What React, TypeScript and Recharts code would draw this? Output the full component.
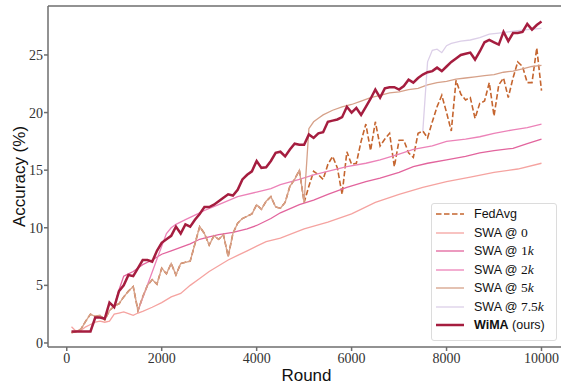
import { Label, Legend, Line, LineChart, ReferenceLine, XAxis, YAxis } from "recharts"

// evaluation every 100 rounds
const rounds = Array.from({ length: 100 }, (_, i) => (i + 1) * 100)

const fedAvgAcc = [
  0.9, 1.0, 1.2, 1.9, 2.5, 2.3, 2.4, 2.0, 2.8, 3.2,
  3.4, 4.0, 4.5, 4.9, 2.8, 4.0, 5.0, 5.5, 5.1, 6.5,
  6.0, 6.9, 5.9, 6.9, 7.0, 7.1, 8.6, 10.1, 9.5, 8.5,
  9.3, 9.0, 9.4, 7.5, 9.5, 10.4, 10.8, 11.0, 11.2, 12.0,
  11.6, 12.3, 12.7, 11.8, 11.7, 12.2, 13.6, 14.2, 15.0, 12.2,
  13.6, 14.9, 14.6, 14.2, 15.5, 16.2, 15.2, 12.9, 16.6, 15.5,
  15.6, 17.5, 19.0, 16.7, 19.2, 17.1, 17.7, 18.2, 15.3, 17.6,
  17.6, 16.5, 16.1, 18.2, 18.4, 17.8, 19.2, 20.5, 21.5, 20.0,
  18.4, 22.8, 21.6, 21.1, 21.3, 19.5, 20.8, 21.0, 22.6, 19.7,
  22.4, 23.0, 21.3, 23.0, 24.4, 24.0, 22.6, 22.6, 25.6, 21.9,
]

const wimaAcc = [
  1.0, 1.0, 1.0, 1.0, 1.0, 2.2, 2.2, 2.1, 3.5, 3.1,
  4.5, 5.0, 5.9, 5.8, 6.5, 7.2, 7.2, 7.05, 8.0, 8.7,
  9.0, 9.3, 10.1, 9.5, 10.3, 10.1, 10.7, 11.2, 11.8, 11.8,
  12.0, 12.3, 12.6, 12.9, 12.8, 13.3, 14.2, 14.6, 14.9, 15.8,
  15.2, 15.25, 15.8, 16.5, 16.6, 16.2, 16.8, 17.3, 17.2, 17.2,
  18.1, 17.8, 18.2, 18.3, 19.2, 19.3, 19.4, 19.6, 20.5, 20.0,
  20.4, 19.8, 20.5, 21.2, 22.0, 21.3, 22.1, 22.2, 22.2, 22.0,
  22.3, 22.85, 22.6, 23.0, 23.3, 23.5, 23.6, 23.9, 23.6, 24.0,
  24.4, 24.7, 25.0, 25.1, 25.2, 24.6, 25.3, 26.1, 26.3, 26.1,
  25.9, 27.0, 26.2, 26.9, 26.9, 27.0, 27.7, 27.2, 27.6, 27.9,
]

const swa0Rounds = [
  100, 200, 300, 400, 500, 600, 700, 800, 900, 1000, 1100, 1200, 1300, 1400, 1500, 1600,
  1800, 2000, 2200, 2400, 2600, 2800, 3000, 3200, 3400, 3600, 3800, 4000, 4200, 4500,
  5000, 5500, 6000, 6500, 7000, 7500, 8000, 8500, 9000, 9500, 10000,
]
const swa0Acc = [
  1.4, 1.0, 1.1, 1.4, 1.6, 1.8, 1.9, 1.8, 1.9, 2.5, 2.6, 2.7, 2.55, 2.4, 2.6, 2.75,
  3.1, 3.5, 4.0, 4.3, 5.0, 5.6, 6.2, 6.7, 7.2, 7.6, 8.0, 8.4, 8.8, 9.1,
  9.9, 10.5, 11.2, 12.2, 12.9, 13.5, 14.0, 14.4, 14.8, 15.1, 15.6,
]

const swa1kRounds = [
  1000, 1100, 1200, 1300, 1400, 1500, 1600, 1800, 2000, 2200, 2400, 2600, 2800, 3000,
  3200, 3500, 3800, 4000, 4300, 4500, 4900, 5200, 5500, 5900, 6300, 6600, 7000, 7300,
  7600, 8000, 8400, 8700, 9000, 9400, 9700, 10000,
]
const swa1kAcc = [
  3.2, 4.6, 5.8, 6.0, 6.2, 6.5, 6.8, 7.2, 7.7, 8.0, 8.3, 8.6, 9.0, 9.2,
  9.4, 9.6, 9.9, 10.2, 10.8, 11.3, 12.0, 12.4, 12.9, 13.5, 14.0, 14.3, 14.8, 15.3,
  15.6, 15.9, 16.2, 16.5, 16.7, 16.9, 17.3, 17.7,
]

const swa2kRounds = [
  1500, 2000, 2100, 2200, 2300, 2500, 2700, 2900, 3200, 3600, 4000, 4300, 4500, 4900,
  5200, 5600, 5900, 6300, 6600, 7000, 7300, 7700, 8000, 8400, 8700, 9000, 9400, 9700, 10000,
]
const swa2kAcc = [
  2.8, 8.4, 9.5, 10.0, 10.3, 10.7, 11.1, 11.5, 12.0, 12.7, 13.1, 13.4, 13.75, 14.2,
  14.6, 15.0, 15.3, 15.6, 15.9, 16.4, 16.8, 17.1, 17.5, 17.7, 17.9, 18.2, 18.5, 18.7, 19.0,
]

// SWA @ 5k follows FedAvg until round 5000
const swa5kLateRounds = [
  5100, 5200, 5300, 5400, 5600, 5800, 6000, 6200, 6400, 6600, 6800, 7000, 7200, 7400,
  7600, 7800, 8000, 8200, 8400, 8600, 8800, 9000, 9200, 9400, 9600, 9800, 10000,
]
const swa5kLateAcc = [
  18.6, 19.2, 19.5, 19.8, 20.2, 20.5, 20.7, 21.0, 21.3, 21.5, 21.7, 21.8, 22.0, 22.1,
  22.4, 22.6, 22.7, 22.9, 23.0, 23.1, 23.2, 23.3, 23.5, 23.6, 23.8, 24.0, 24.1,
]

const swa75kRounds = [
  7500, 7600, 7700, 7800, 7900, 8000, 8100, 8300, 8500, 8700, 8900, 9100, 9300, 9500, 9700, 10000,
]
const swa75kAcc = [
  18.4, 24.4, 25.4, 25.5, 25.2, 25.8, 26.0, 26.2, 26.3, 26.5, 26.8, 26.9, 27.0, 27.1, 27.2, 27.3,
]

const xTicks = [0, 2000, 4000, 6000, 8000, 10000]
const yTicks = [0, 5, 10, 15, 20, 25]

const toPoints = (xs: number[], ys: number[]) => xs.map((x, i) => ({ x, y: ys[i] }))

const fedAvgData = toPoints(rounds, fedAvgAcc)
const wimaData = toPoints(rounds, wimaAcc)
const swa0Data = toPoints(swa0Rounds, swa0Acc)
const swa1kData = toPoints(swa1kRounds, swa1kAcc)
const swa2kData = toPoints(swa2kRounds, swa2kAcc)
const swa5kData = [...fedAvgData.slice(0, 50), ...toPoints(swa5kLateRounds, swa5kLateAcc)]
const swa75kData = toPoints(swa75kRounds, swa75kAcc)

const C = {
  fedavg: "#c5652f",
  swa0: "#f5a3a0",
  swa1k: "#e2649d",
  swa2k: "#ec82b8",
  swa5k: "#d6a189",
  swa75k: "#dccfe8",
  wima: "#a51d3f",
}

const axisColor = "#6e6e6e"
const serif = "'Liberation Serif', 'DejaVu Serif', serif"
const sans = "'Liberation Sans', 'DejaVu Sans', sans-serif"

const Math_ = ({ n }: { n: string }) => (
  <span style={{ fontFamily: serif, fontSize: 13.5 }}>
    {n}
    <i>k</i>
  </span>
)

const legendRows = [
  { color: C.fedavg, dash: "5.5 2.5", w: 1.6, label: <span>FedAvg</span> },
  { color: C.swa0, w: 1.3, label: <span>SWA @ <span style={{ fontFamily: serif, fontSize: 13.5 }}>0</span></span> },
  { color: C.swa1k, w: 1.3, label: <span>SWA @ <Math_ n="1" /></span> },
  { color: C.swa2k, w: 1.3, label: <span>SWA @ <Math_ n="2" /></span> },
  { color: C.swa5k, w: 1.3, label: <span>SWA @ <Math_ n="5" /></span> },
  { color: C.swa75k, w: 1.3, label: <span>SWA @ <Math_ n="7.5" /></span> },
  { color: C.wima, w: 2.5, label: <span><b>WiMA</b> (ours)</span> },
]

function LegendBox() {
  return (
    <div
      style={{
        boxSizing: "border-box",
        width: 126,
        height: 138,
        border: "1px solid #dcdcdc",
        borderRadius: 3,
        background: "rgba(255,255,255,0.85)",
        paddingTop: 1,
        fontFamily: sans,
        fontSize: 12.5,
        color: "#111",
      }}
    >
      {legendRows.map((r, i) => (
        <div key={i} style={{ display: "flex", alignItems: "center", height: 18.5 }}>
          <svg width={42} height={10} style={{ flex: "none" }}>
            <line x1={4} y1={5} x2={32} y2={5} stroke={r.color} strokeWidth={r.w} strokeDasharray={r.dash} />
          </svg>
          <span style={{ whiteSpace: "nowrap" }}>{r.label}</span>
        </div>
      ))}
    </div>
  )
}

export default function App() {
  return (
    <div style={{ position: "absolute", left: 0, top: 0, width: 561, height: 385, overflow: "hidden", background: "#fff" }}>
      <LineChart width={566} height={385} margin={{ top: 6, right: 1, bottom: 4, left: 0 }}>
        <XAxis
          dataKey="x"
          type="number"
          domain={[-395, 10495]}
          ticks={xTicks}
          allowDataOverflow
          height={34}
          stroke={axisColor}
          strokeWidth={1.5}
          tickSize={4}
          tickMargin={2}
          tick={{ fill: "#333", fontFamily: serif, fontSize: 14 }}
        >
          <Label
            content={(p: any) => {
              const vb = p.viewBox
              return (
                <text x={vb.x + vb.width / 2} y={381} textAnchor="middle" fontFamily={sans} fontSize={17} fill="#111">
                  Round
                </text>
              )
            }}
          />
        </XAxis>
        <YAxis
          type="number"
          domain={[-0.35, 29.25]}
          ticks={yTicks}
          allowDataOverflow
          width={48}
          stroke={axisColor}
          strokeWidth={1.5}
          tickSize={4}
          tickMargin={1}
          tick={{ fill: "#333", fontFamily: serif, fontSize: 14 }}
        >
          <Label
            content={(p: any) => {
              const vb = p.viewBox
              const cy = vb.y + vb.height / 2
              return (
                <text x={25} y={cy} transform={`rotate(-90, 25, ${cy})`} textAnchor="middle" fontFamily={sans} fontSize={17} fill="#111">
                  Accuracy (%)
                </text>
              )
            }}
          />
        </YAxis>
        <ReferenceLine y={29.25} stroke={axisColor} strokeWidth={1.5} />
        <Legend
          layout="vertical"
          align="center"
          verticalAlign="middle"
          wrapperStyle={{ left: 431, top: 203, width: 126, height: 138 }}
          content={() => <LegendBox />}
        />
        <Line data={fedAvgData} dataKey="y" name="FedAvg" stroke={C.fedavg} strokeWidth={1.6} strokeDasharray="5.5 2.5" dot={false} isAnimationActive={false} />
        <Line data={swa0Data} dataKey="y" name="SWA @ 0" stroke={C.swa0} strokeWidth={1.3} dot={false} isAnimationActive={false} />
        <Line data={swa1kData} dataKey="y" name="SWA @ 1k" stroke={C.swa1k} strokeWidth={1.3} dot={false} isAnimationActive={false} />
        <Line data={swa2kData} dataKey="y" name="SWA @ 2k" stroke={C.swa2k} strokeWidth={1.3} dot={false} isAnimationActive={false} />
        <Line data={swa5kData} dataKey="y" name="SWA @ 5k" stroke={C.swa5k} strokeWidth={1.3} dot={false} isAnimationActive={false} />
        <Line data={swa75kData} dataKey="y" name="SWA @ 7.5k" stroke={C.swa75k} strokeWidth={1.3} dot={false} isAnimationActive={false} />
        <Line data={wimaData} dataKey="y" name="WiMA (ours)" stroke={C.wima} strokeWidth={2.5} dot={false} isAnimationActive={false} />
      </LineChart>
    </div>
  )
}
